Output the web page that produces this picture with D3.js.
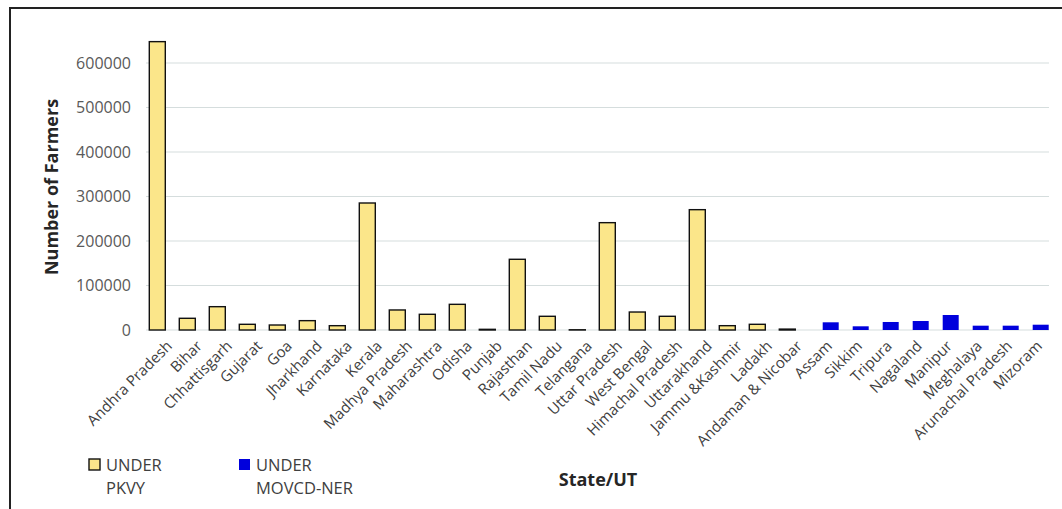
<!DOCTYPE html>
<html>
<head>
<meta charset="utf-8">
<script src="https://cdn.jsdelivr.net/npm/d3@7"></script>
<style>
body { margin: 0; background: #fff; }
svg { display: block; font-family: "Open Sans", "Noto Sans", sans-serif; }
</style>
</head>
<body>
<div id="chart"></div>
<script>
// states/UTs on the x axis, in order
let states = ['Andhra Pradesh','Bihar','Chhattisgarh','Gujarat','Goa','Jharkhand','Karnataka','Kerala',
  'Madhya Pradesh','Maharashtra','Odisha','Punjab','Rajasthan','Tamil Nadu','Telangana','Uttar Pradesh',
  'West Bengal','Himachal Pradesh','Uttarakhand','Jammu &Kashmir','Ladakh','Andaman & Nicobar',
  'Assam','Sikkim','Tripura','Nagaland','Manipur','Meghalaya','Arunachal Pradesh','Mizoram']
// farmers under PKVY (null = not in this scheme)
let pkvy = [648000,26300,52400,12800,11200,21000,9700,285400,45000,35300,57700,1500,158900,30800,500,
  241200,40400,30800,270400,9700,12800,2000,null,null,null,null,null,null,null,null]
// farmers under MOVCD-NER
let movcd = [null,null,null,null,null,null,null,null,null,null,null,null,null,null,null,null,null,null,
  null,null,null,null,17300,8300,18000,20200,33700,9700,9700,11900]
let yTicks = [0,100000,200000,300000,400000,500000,600000]
let seriesNames = ['UNDER PKVY','UNDER MOVCD-NER']
let colors = ['#fbe68a','#0000dc']

let size = { width: 1062, height: 509 }
let plot = { left: 149, right: 1049, top: 40.75, bottom: 330 }

let svg = d3.select('#chart')
  .append('svg')
  .attr('width', size.width)
  .attr('height', size.height)

// outer frame (right/bottom sides fall outside the picture)
svg.append('rect')
  .attr('x', 10).attr('y', 8)
  .attr('width', 1070).attr('height', 520)
  .attr('fill', 'none')
  .attr('stroke', '#222')
  .attr('stroke-width', 2)

let xScale = d3.scaleBand()
  .domain(states)
  .range([plot.left, plot.right])
let offset = d3.scalePoint()
  .domain(seriesNames)
  .range([-6.7, 6.7])
let barW = 16
let yScale = d3.scaleLinear()
  .domain([0, 650000])
  .range([plot.bottom, plot.top])

// gridlines
svg.append('g')
  .selectAll('line')
  .data(yTicks)
  .join('line')
  .attr('x1', plot.left - 3).attr('x2', plot.right)
  .attr('y1', d => yScale(d)).attr('y2', d => yScale(d))
  .attr('stroke', '#d5dddd')
  .attr('stroke-width', 1.2)

// y axis labels
let yAxis = d3.axisLeft(yScale).tickValues(yTicks).tickSize(0).tickPadding(0).tickFormat(d3.format('d'))
let gY = svg.append('g')
  .attr('transform', `translate(${131},0)`)
  .call(yAxis)
gY.select('.domain').remove()
gY.selectAll('text')
  .attr('fill', '#595959')
  .style('font-size', '16px')
  .style('font-family', '"Open Sans", sans-serif')

// bars
let center = d => xScale(d) + xScale.bandwidth() / 2
let pk = states.map((s, i) => ({ s: s, v: pkvy[i] })).filter(d => d.v != null)
let mv = states.map((s, i) => ({ s: s, v: movcd[i] })).filter(d => d.v != null)

svg.append('g')
  .selectAll('rect')
  .data(pk)
  .join('rect')
  .attr('x', d => center(d.s) + offset(seriesNames[0]) - barW / 2)
  .attr('y', d => yScale(d.v))
  .attr('width', barW)
  .attr('height', d => yScale(0) - yScale(d.v))
  .attr('fill', colors[0])
  .attr('stroke', '#111')
  .attr('stroke-width', 1.4)

svg.append('g')
  .selectAll('rect')
  .data(mv)
  .join('rect')
  .attr('x', d => center(d.s) + offset(seriesNames[1]) - barW / 2)
  .attr('y', d => yScale(d.v))
  .attr('width', barW)
  .attr('height', d => yScale(0) - yScale(d.v))
  .attr('fill', colors[1])

// x axis labels, rotated
let xAxis = d3.axisBottom(xScale).tickSize(0).tickPadding(0)
let gX = svg.append('g')
  .attr('transform', `translate(0,${plot.bottom})`)
  .call(xAxis)
gX.select('.domain').remove()
gX.selectAll('text')
  .attr('fill', '#404040')
  .style('font-size', '15px')
  .style('font-family', '"Open Sans", sans-serif')
  .attr('text-anchor', 'end')
  .attr('dy', 0)
  .attr('transform', 'translate(9,17) rotate(-45)')

// axis titles
svg.append('text')
  .attr('transform', `translate(58,${187}) rotate(-90)`)
  .attr('text-anchor', 'middle')
  .attr('fill', '#262626')
  .style('font-size', '18px')
  .style('font-weight', 'bold')
  .text('Number of Farmers')

svg.append('text')
  .attr('x', 598).attr('y', 486)
  .attr('text-anchor', 'middle')
  .attr('fill', '#262626')
  .style('font-size', '18px')
  .style('font-weight', 'bold')
  .text('State/UT')

// legend
let legX = [89, 239]
let leg = svg.append('g')
  .selectAll('g')
  .data(seriesNames)
  .join('g')
  .attr('transform', (d, i) => `translate(${legX[i]},459)`)
leg.append('rect')
  .attr('width', 11).attr('height', 11)
  .attr('fill', (d, i) => colors[i])
  .attr('stroke', (d, i) => i == 0 ? '#111' : 'none')
  .attr('stroke-width', 1.4)
leg.append('text')
  .attr('fill', '#404040')
  .style('font-size', '16.5px')
  .selectAll('tspan')
  .data(d => [d.split(' ')[0], d.split(' ').slice(1).join(' ')])
  .join('tspan')
  .attr('x', 17)
  .attr('y', (d, i) => 12 + i * 23)
  .text(d => d)
</script>
</body>
</html>
